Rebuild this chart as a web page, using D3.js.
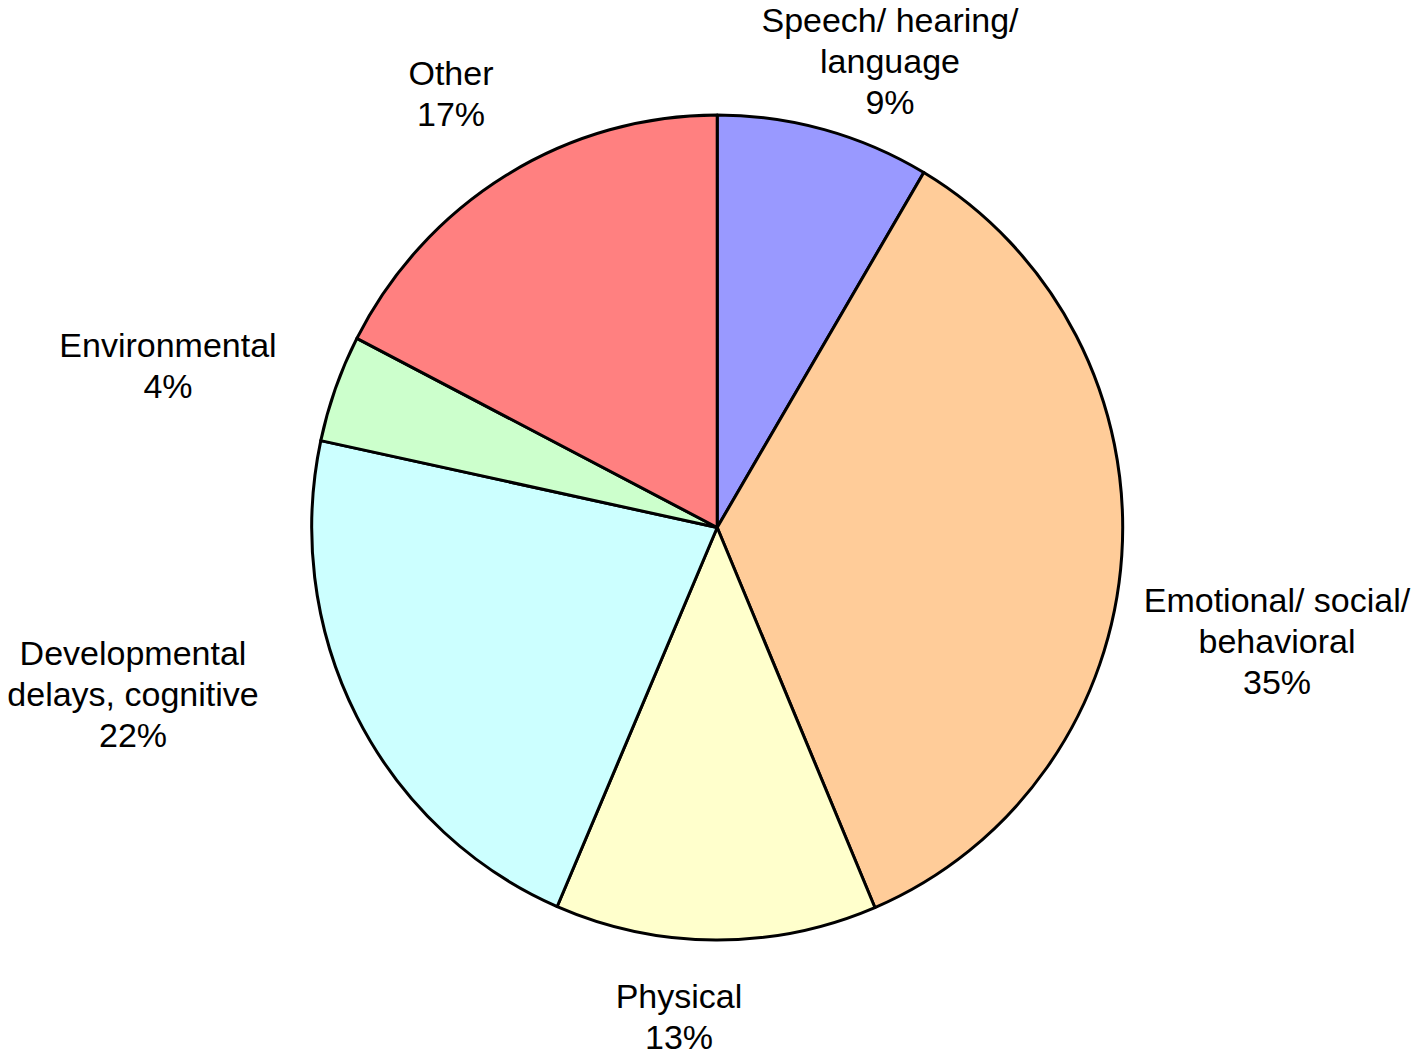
<!DOCTYPE html>
<html>
<head>
<meta charset="utf-8">
<script src="https://cdn.jsdelivr.net/npm/d3@7"></script>
<style>
  body { margin: 0; background: #fff; }
  svg text { font-family: Arial, "Liberation Sans", sans-serif; font-size: 34px; fill: #000; }
</style>
</head>
<body>
<div class="chart"></div>
<script>
// categories in drawing order, clockwise from 12 o'clock
var categories = ["Speech/ hearing/ language", "Emotional/ social/ behavioral", "Physical",
                  "Developmental delays, cognitive", "Environmental", "Other"];
var values = [8.5, 35.1, 12.8, 21.9, 4.2, 17.4];
var pctLabels = ["9%", "35%", "13%", "22%", "4%", "17%"];
var colors = ["#9999FF", "#FFCC99", "#FFFFCC", "#CCFFFF", "#CCFFCC", "#FF8080"];

var width = 1415,
    height = 1056,
    cx = 717.2,
    cy = 527.5,
    rx = 405.5,
    ry = 412.5,
    lineHeight = 41;

// label text lines and where the block's first baseline sits
var labelLines = [
    ["Speech/ hearing/", "language"],
    ["Emotional/ social/", "behavioral"],
    ["Physical"],
    ["Developmental", "delays, cognitive"],
    ["Environmental"],
    ["Other"]
];
var labelLayout = [
    {x: 890, y: 32},
    {x: 1277, y: 612},
    {x: 679, y: 1008},
    {x: 133, y: 665},
    {x: 168, y: 357},
    {x: 451, y: 85}
];

var svg = d3.select("div.chart").append("svg")
    .attr("width", width)
    .attr("height", height);

var pie = d3.pie().sort(null).value(function(d) { return d; });
var arc = d3.arc().innerRadius(0).outerRadius(rx);

var pieG = svg.append("g")
    .attr("transform", "translate(" + cx + "," + cy + ") scale(1," + (ry / rx) + ")");

pieG.selectAll("path")
    .data(pie(values))
    .enter().append("path")
    .attr("d", arc)
    .attr("fill", function(d, i) { return colors[i]; })
    .attr("stroke", "#000")
    .attr("stroke-width", 3)
    .attr("stroke-linejoin", "round")
    .attr("vector-effect", "non-scaling-stroke");

var labels = svg.selectAll("text.label")
    .data(categories)
    .enter().append("text")
    .attr("class", "label")
    .attr("text-anchor", "middle")
    .attr("x", function(d, i) { return labelLayout[i].x; })
    .attr("y", function(d, i) { return labelLayout[i].y; });

labels.each(function(d, i) {
    var t = d3.select(this);
    var lines = labelLines[i].concat([pctLabels[i]]);
    lines.forEach(function(line, j) {
        t.append("tspan")
            .attr("x", labelLayout[i].x)
            .attr("y", labelLayout[i].y + j * lineHeight)
            .text(line);
    });
});
</script>
</body>
</html>
